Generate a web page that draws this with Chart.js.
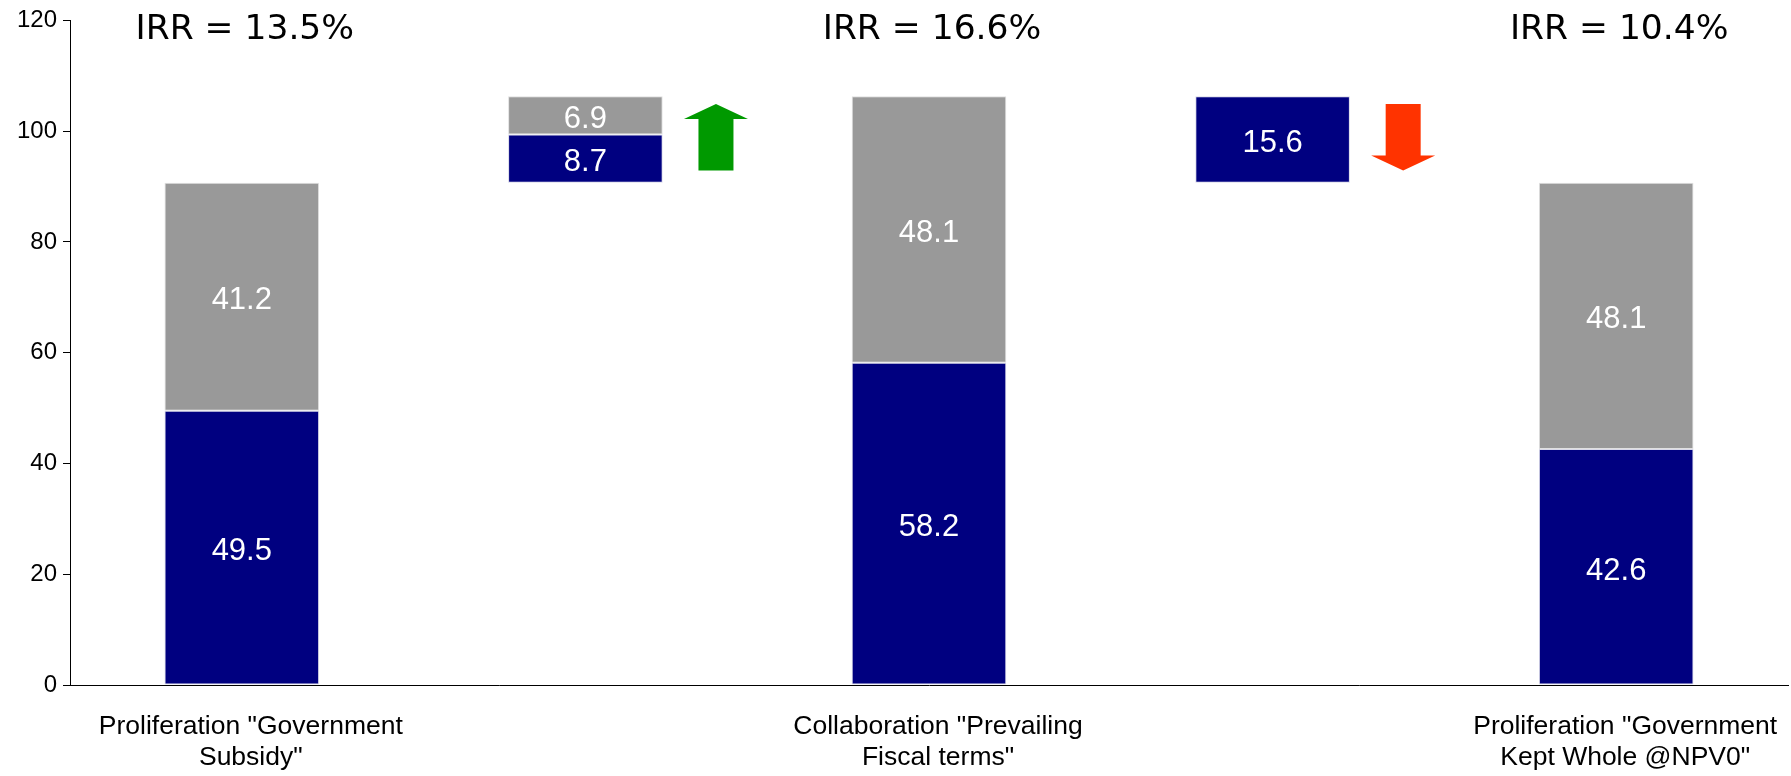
<!DOCTYPE html>
<html>
<head>
<meta charset="utf-8">
<script src="https://cdn.jsdelivr.net/npm/chart.js@4/dist/chart.umd.min.js"></script>
<style>
    body { margin: 0; background: #fff; }
    #wrap { width: 1791px; height: 776px; }
</style>
</head>
<body>
<div id="wrap"><canvas id="irrChart" width="1791" height="776"></canvas></div>
<script>
// Data
const categories = [
    ['Proliferation "Government', 'Subsidy"'],
    '',
    ['Collaboration "Prevailing', 'Fiscal terms"'],
    '',
    ['Proliferation "Government', 'Kept Whole @NPV0"']
];
const blueValues = [49.5, 8.7, 58.2, 15.6, 42.6];
const grayValues = [41.2, 6.9, 48.1, null, 48.1];
// 0 = full bar, 1 = step up, -1 = step down
const stepDirection = [0, 1, 0, -1, 0];
const irrLabels = ['IRR = 13.5%', '', 'IRR = 16.6%', '', 'IRR = 10.4%'];
const yTicks = [0, 20, 40, 60, 80, 100, 120];

const navy = '#000080';
const gray = '#999999';
const green = '#009900';
const red = '#ff3300';

// build floating ranges from the values
const blueRanges = [];
const grayRanges = [];
const stepRanges = [];
let total = 0;
blueValues.forEach((b, i) => {
    const g = grayValues[i] || 0;
    if (stepDirection[i] === 0) {
        blueRanges.push([0, b]);
        grayRanges.push(grayValues[i] == null ? null : [b, b + g]);
        total = b + g;
        stepRanges.push(null);
    } else if (stepDirection[i] > 0) {
        blueRanges.push([total, total + b]);
        grayRanges.push(grayValues[i] == null ? null : [total + b, total + b + g]);
        stepRanges.push([total, total + b + g]);
        total = total + b + g;
    } else {
        blueRanges.push([total - b - g, total - g]);
        grayRanges.push(grayValues[i] == null ? null : [total - g, total]);
        stepRanges.push([total - b - g, total]);
        total = total - b - g;
    }
});

const sansFont = '"Liberation Sans", Arial, sans-serif';

// Values inside the bars, IRR headers and arrows
const annotations = {
    id: 'annotations',
    afterDatasetsDraw(chart) {
        const ctx = chart.ctx;
        const xScale = chart.scales.x;
        const yScale = chart.scales.y;

        ctx.save();
        ctx.fillStyle = '#ffffff';
        ctx.font = '31px ' + sansFont;
        ctx.textAlign = 'center';
        ctx.textBaseline = 'middle';
        chart.data.datasets.forEach((ds, di) => {
            const meta = chart.getDatasetMeta(di);
            meta.data.forEach((bar, i) => {
                const r = ds.data[i];
                if (!r) return;
                const val = di === 0 ? blueValues[i] : grayValues[i];
                const yMid = (yScale.getPixelForValue(r[0]) + yScale.getPixelForValue(r[1])) / 2;
                ctx.fillText(val.toFixed(1), bar.x, yMid + 4);
            });
        });

        // IRR headers
        ctx.fillStyle = '#000000';
        ctx.font = '34.5px "DejaVu Sans", Verdana, sans-serif';
        irrLabels.forEach((txt, i) => {
            if (!txt) return;
            ctx.fillText(txt, xScale.getPixelForValue(i) + 3, 30);
        });

        // arrows next to the step bars
        const catWidth = xScale.width / categories.length;
        stepRanges.forEach((rg, i) => {
            if (!rg) return;
            const cx = xScale.getPixelForValue(i) + catWidth * 0.38;
            const top = yScale.getPixelForValue(rg[1]);
            const bottom = yScale.getPixelForValue(rg[0]);
            const h = bottom - top;
            const y1 = top + h * 0.09;
            const y2 = bottom - h * 0.14;
            const headW = 32;
            const shaftW = 17.5;
            const headH = 15;
            ctx.beginPath();
            if (stepDirection[i] > 0) {
                ctx.fillStyle = green;
                ctx.moveTo(cx, y1);
                ctx.lineTo(cx + headW, y1 + headH);
                ctx.lineTo(cx + shaftW, y1 + headH);
                ctx.lineTo(cx + shaftW, y2);
                ctx.lineTo(cx - shaftW, y2);
                ctx.lineTo(cx - shaftW, y1 + headH);
                ctx.lineTo(cx - headW, y1 + headH);
            } else {
                ctx.fillStyle = red;
                ctx.moveTo(cx, y2);
                ctx.lineTo(cx + headW, y2 - headH);
                ctx.lineTo(cx + shaftW, y2 - headH);
                ctx.lineTo(cx + shaftW, y1);
                ctx.lineTo(cx - shaftW, y1);
                ctx.lineTo(cx - shaftW, y2 - headH);
                ctx.lineTo(cx - headW, y2 - headH);
            }
            ctx.closePath();
            ctx.fill();
        });
        ctx.restore();
    }
};

const initChart = () => {
    const canvas = document.getElementById('irrChart');

    new Chart(canvas, {
        type: 'bar',
        data: {
            labels: categories,
            datasets: [
                {
                    label: 'Blue',
                    data: blueRanges,
                    backgroundColor: navy,
                    borderColor: '#d8d8e8',
                    borderWidth: 1,
                    borderSkipped: false,
                    grouped: false,
                    barPercentage: 0.45,
                    categoryPercentage: 1
                },
                {
                    label: 'Gray',
                    data: grayRanges,
                    backgroundColor: gray,
                    borderColor: '#e0e0e0',
                    borderWidth: 1,
                    borderSkipped: false,
                    grouped: false,
                    barPercentage: 0.45,
                    categoryPercentage: 1
                }
            ]
        },
        options: {
            responsive: false,
            animation: false,
            layout: {
                padding: { top: 20, right: 3, left: 0, bottom: 0 }
            },
            plugins: {
                legend: { display: false },
                tooltip: { enabled: false }
            },
            scales: {
                x: {
                    grid: { display: false, drawTicks: false },
                    border: { display: true, color: '#000000', width: 1 },
                    ticks: {
                        color: '#000000',
                        font: { family: sansFont, size: 26.5, lineHeight: 1.17 },
                        padding: 26,
                        labelOffset: 9,
                        maxRotation: 0,
                        autoSkip: false
                    },
                    afterFit: (scale) => {
                        scale.height = 91;
                        scale.paddingLeft = 0;
                        scale.paddingRight = 0;
                    }
                },
                y: {
                    min: 0,
                    max: 120,
                    afterBuildTicks: (scale) => {
                        scale.ticks = yTicks.map(v => ({ value: v }));
                    },
                    grid: {
                        drawOnChartArea: false,
                        drawTicks: true,
                        tickLength: 7,
                        color: '#000000'
                    },
                    border: { display: true, color: '#000000', width: 1 },
                    ticks: {
                        color: '#000000',
                        font: { family: sansFont, size: 24 },
                        padding: 6
                    },
                    afterFit: (scale) => { scale.width = 70; }
                }
            }
        },
        plugins: [annotations]
    });
};

document.addEventListener('DOMContentLoaded', initChart);
</script>
</body>
</html>
